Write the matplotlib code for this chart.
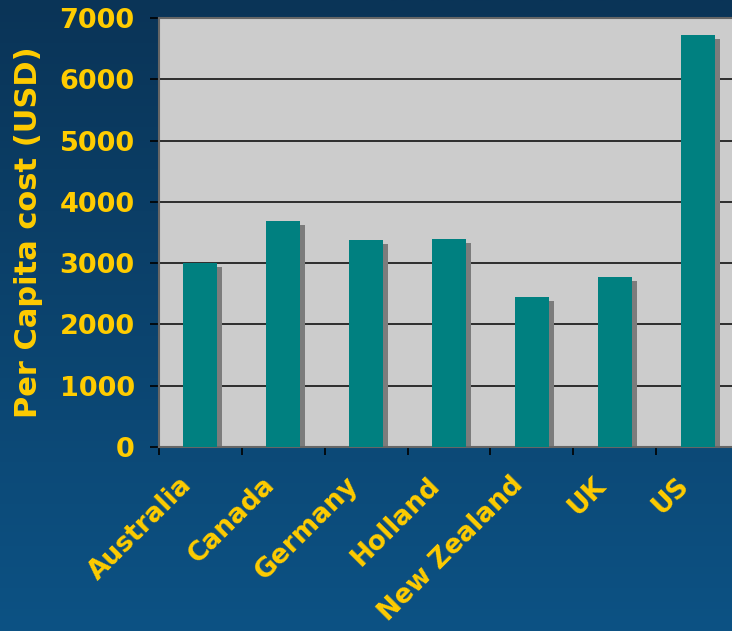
import numpy as np
import matplotlib.pyplot as plt
from matplotlib.transforms import ScaledTranslation

countries = ["Australia", "Canada", "Germany", "Holland", "New Zealand", "UK", "US"]
cost = [3000, 3690, 3380, 3390, 2450, 2770, 6720]
yticks = [0, 1000, 2000, 3000, 4000, 5000, 6000, 7000]

yellow = "#ffcc00"
W, H = 732, 631

fig = plt.figure(figsize=(W / 100, H / 100), dpi=100)

# blue gradient background
bg = fig.add_axes([0, 0, 1, 1], zorder=-10)
grad = np.linspace(0, 1, 256).reshape(-1, 1)
top = np.array([0x0a, 0x34, 0x57]) / 255
bot = np.array([0x0d, 0x52, 0x84]) / 255
img = top + (bot - top) * grad[:, :, None]
bg.imshow(img, aspect="auto", extent=[0, 1, 0, 1], origin="upper")
bg.axis("off")

# plot area: left 159px, top 18px, bottom 447px, right just off the picture
ax = fig.add_axes([159 / W, 1 - 447 / H, (739 - 159) / W, (447 - 18) / H])
ax.set_facecolor("#cccccc")

x = np.arange(len(countries))
width = 0.41
# shadow: 5px right, 4px down
shadow = ScaledTranslation(5 / 100, -4 / 100, fig.dpi_scale_trans)
ax.bar(x, cost, width, color="#7c7c7c", zorder=2, transform=ax.transData + shadow)
ax.bar(x, cost, width, color="#008080", zorder=3)

ax.set_ylim(0, 7000)
ax.set_xlim(-0.5, len(countries) - 0.5)
ax.set_yticks(yticks)
ax.yaxis.grid(True, color="#111111", linewidth=1.2, zorder=1)
ax.set_axisbelow(True)

ax.set_xticks(np.arange(len(countries) + 1) - 0.5)
ax.set_xticklabels([])
ax.tick_params(axis="x", direction="out", length=6, width=1.2, color="black")
ax.tick_params(axis="y", direction="out", length=6.5, width=1.2, color="black",
               labelcolor=yellow, labelsize=19.5, pad=11)
for lab in ax.get_yticklabels():
    lab.set_fontweight("bold")

for s in ["left", "bottom", "top"]:
    ax.spines[s].set_color("#666666")
    ax.spines[s].set_linewidth(1.5)
ax.spines["right"].set_visible(False)

ax.set_ylabel("Per Capita cost (USD)", color=yellow, fontsize=22,
              fontweight="bold", labelpad=12)

# rotated category labels
for i, name in enumerate(countries):
    ax.text(i - 0.26, -0.058, name, transform=ax.get_xaxis_transform(),
            color=yellow, fontsize=19, fontweight="bold", rotation=45,
            rotation_mode="anchor", ha="right", va="top")

fig.savefig("out.png", dpi=100)
